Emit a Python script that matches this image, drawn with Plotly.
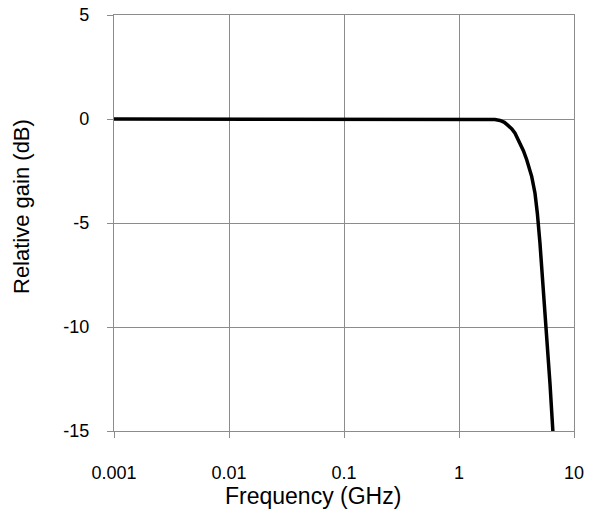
import plotly.graph_objects as go

freq_ghz = [0.001, 1.9, 2.05, 2.27, 2.48, 2.68, 2.88, 3.07, 3.39, 3.63, 3.88, 4.29, 4.58, 4.80, 5.06, 5.41, 5.79, 6.18, 6.55]
gain_db = [0.0, 0.0, -0.03, -0.07, -0.16, -0.32, -0.48, -0.68, -1.16, -1.52, -1.96, -2.77, -3.57, -4.53, -5.98, -8.07, -10.3, -12.7, -15.0]

x_tickvals = [0.001, 0.01, 0.1, 1, 10]
x_ticktext = ["0.001", "0.01", "0.1", "1", "10"]
y_tickvals = [5, 0, -5, -10, -15]
y_ticktext = ["5", "0", "-5", "-10", "-15"]

FONT = "Liberation Sans, Arial, sans-serif"
GRID = "#8c8c8c"

fig = go.Figure()
fig.add_trace(go.Scatter(
    x=freq_ghz, y=gain_db, mode="lines",
    line=dict(color="black", width=3.5, shape="linear"),
    showlegend=False, hoverinfo="x+y",
))

fig.update_layout(
    width=589, height=519,
    margin=dict(l=114, r=15, t=15, b=88, autoexpand=False),
    paper_bgcolor="white", plot_bgcolor="white",
    font=dict(family=FONT, size=18, color="black"),
    xaxis=dict(
        type="log", range=[-3, 1], automargin=False,
        tickvals=x_tickvals, ticktext=x_ticktext,
        showgrid=True, gridcolor=GRID, gridwidth=1.3,
        showline=True, linecolor=GRID, linewidth=1.3, mirror=True,
        ticks="outside", ticklen=6, tickcolor=GRID, tickwidth=1.3,
        ticklabelstandoff=19,
        zeroline=False,
        tickfont=dict(family=FONT, size=18, color="black"),
    ),
    yaxis=dict(
        range=[-15, 5], automargin=False,
        tickvals=y_tickvals, ticktext=y_ticktext,
        showgrid=True, gridcolor=GRID, gridwidth=1.3,
        showline=True, linecolor=GRID, linewidth=1.3, mirror=True,
        ticks="outside", ticklen=6, tickcolor=GRID, tickwidth=1.3,
        ticklabelstandoff=14,
        zeroline=False,
        tickfont=dict(family=FONT, size=18, color="black"),
    ),
    annotations=[
        dict(text="Frequency (GHz)", xref="paper", yref="paper",
             x=(313 - 114) / (589 - 114 - 15), y=-(496 - 431) / (519 - 15 - 88),
             xanchor="center", yanchor="middle", showarrow=False,
             font=dict(family=FONT, size=23, color="black")),
        dict(text="Relative gain (dB)", xref="paper", yref="paper",
             x=-(114 - 21) / (589 - 114 - 15), y=(431 - 207) / (519 - 15 - 88),
             xanchor="center", yanchor="middle", textangle=-90, showarrow=False,
             font=dict(family=FONT, size=22, color="black")),
    ],
)

fig.write_html(
    "out.html",
    config={"displayModeBar": False},
    post_script="document.body.style.margin='0';document.body.style.overflow='hidden';",
)
